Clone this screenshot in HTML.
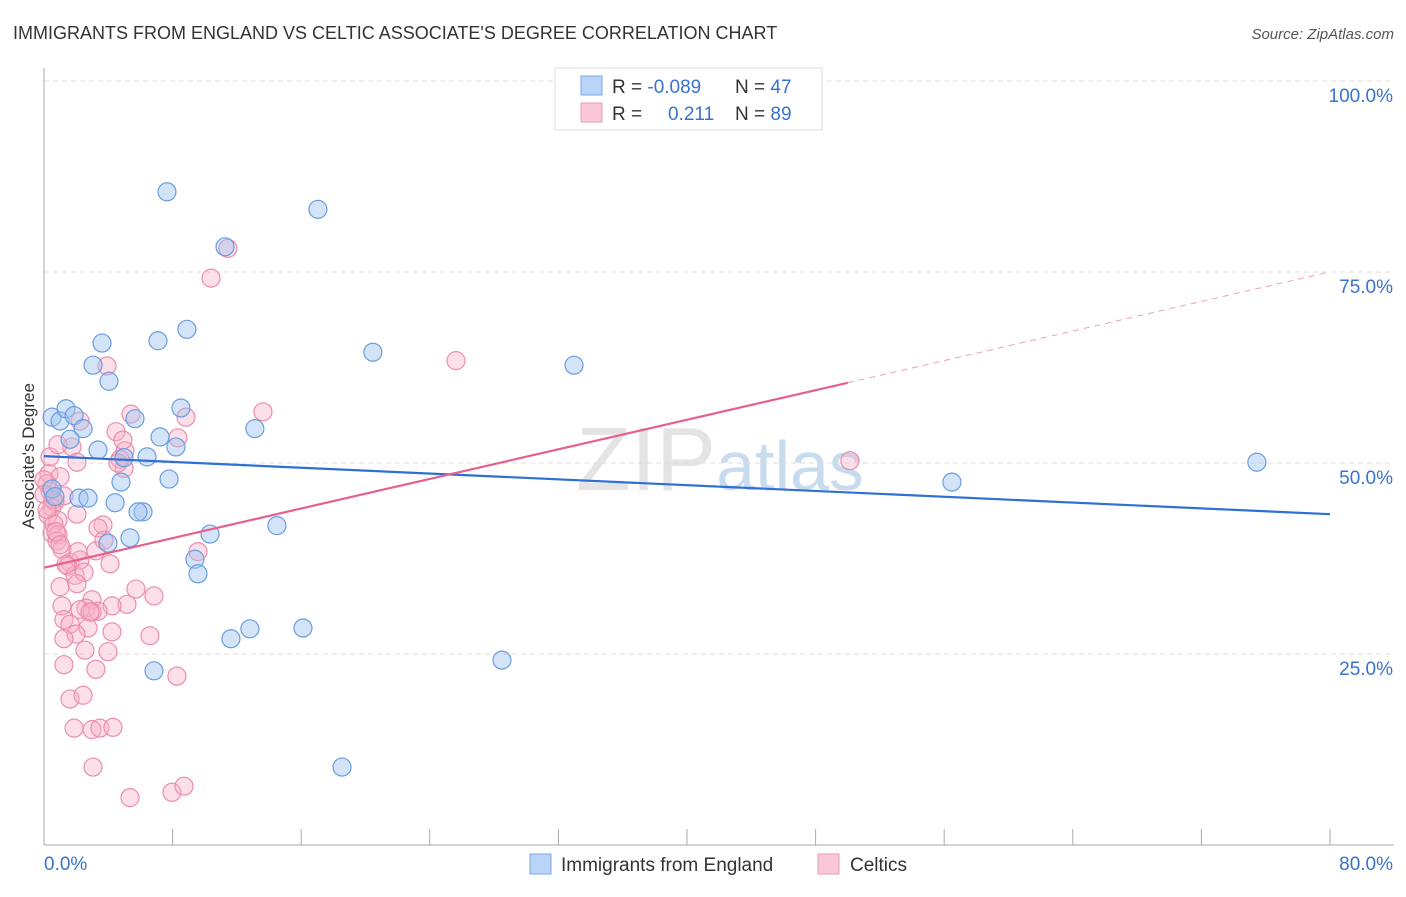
<!DOCTYPE html>
<html><head><meta charset="utf-8"><style>
body{margin:0;background:#fff;font-family:"Liberation Sans",sans-serif;}
svg text{font-family:"Liberation Sans",sans-serif;}
</style></head><body>
<svg id="chart" width="1406" height="892" xmlns="http://www.w3.org/2000/svg">
<text x="13" y="39" font-size="18" fill="#333">IMMIGRANTS FROM ENGLAND VS CELTIC ASSOCIATE'S DEGREE CORRELATION CHART</text>
<text x="1394" y="39" font-size="15" fill="#555" text-anchor="end" font-style="italic">Source: ZipAtlas.com</text>
<text x="720" y="490" font-size="90" fill="#e4e4e4" text-anchor="middle" font-family="Liberation Serif">ZIP<tspan fill="#c8dcf0" font-family="Liberation Sans" font-size="70">atlas</tspan></text>
<g id="grid"></g><g id="axes"></g><g id="pts"></g><g id="lines"></g>
<text transform="translate(34,456) rotate(-90)" font-size="17" fill="#333" text-anchor="middle">Associate's Degree</text>
<g>
<rect x="555" y="68" width="267" height="62" fill="#fff" stroke="#ddd"/>
<rect x="581" y="76" width="21" height="19" fill="#b9d4f6" stroke="#7aa8e6"/>
<rect x="581" y="103" width="21" height="19" fill="#fbc8d7" stroke="#ee9ab5"/>
<text x="612" y="93" font-size="19" fill="#333">R = <tspan fill="#3a72d0">-0.089</tspan></text>
<text x="735" y="93" font-size="19" fill="#333">N = <tspan fill="#3a72d0">47</tspan></text>
<text x="612" y="120" font-size="19" fill="#333">R = <tspan fill="#3a72d0" x="668">0.211</tspan></text>
<text x="735" y="120" font-size="19" fill="#333">N = <tspan fill="#3a72d0">89</tspan></text>
</g>
<g>
<rect x="530" y="854" width="21" height="20" fill="#b9d4f6" stroke="#7aa8e6"/>
<text x="561" y="871" font-size="19" fill="#333">Immigrants from England</text>
<rect x="818" y="854" width="21" height="20" fill="#fbc8d7" stroke="#ee9ab5"/>
<text x="850" y="871" font-size="19" fill="#333">Celtics</text>
</g>
</svg>
<script>
const yTicks=[25,50,75,100];
const yTickLabels=["25.0%","50.0%","75.0%","100.0%"];
const xTickLabels=["0.0%","80.0%"];
const blueX=[7.65,17.04,11.26,3.61,7.09,8.89,3.05,4.04,20.46,32.97,0.5,1.0,1.37,1.87,2.43,1.62,5.66,8.52,13.12,7.22,6.41,8.21,3.36,4.98,7.78,4.79,0.5,2.18,2.74,4.42,6.16,5.85,3.98,5.35,10.33,14.49,9.39,9.58,12.81,11.63,16.11,6.84,28.49,18.54,56.48,75.45,0.68];
const blueY=[85.5,83.2,78.3,65.7,66.0,67.5,62.8,60.7,64.5,62.8,56.0,55.5,57.1,56.2,54.5,53.1,55.8,57.2,54.5,53.4,50.8,52.1,51.7,50.7,47.9,47.5,46.6,45.4,45.4,44.8,43.6,43.6,39.5,40.2,40.7,41.8,37.4,35.5,28.3,27.0,28.4,22.8,24.2,10.2,47.5,50.1,45.6];
const pinkX=[11.44,10.39,25.63,3.92,13.62,5.41,8.83,2.24,4.48,8.33,5.04,1.74,4.73,0.37,2.05,4.98,0.31,1.0,0.19,0.37,1.24,0.68,0.5,0.25,2.05,0.87,0.62,3.67,0.5,3.36,0.87,0.81,3.23,9.58,1.12,1.62,2.24,1.49,1.93,2.49,5.72,1.0,6.84,2.99,5.16,4.23,1.12,2.61,3.36,2.24,2.99,1.24,1.62,2.74,4.23,6.59,1.99,1.24,2.55,3.98,1.24,3.23,8.27,1.62,2.43,1.87,2.99,3.48,4.29,3.05,5.35,7.96,8.71,50.13,2.11,1.37,2.86,4.11,0.87,4.6,0,0,0.56,0.19,0.75,2.05,4.91,3.73,1.0];
const pinkY=[78.1,74.2,63.4,62.7,56.7,56.4,56.0,55.5,54.1,53.3,51.6,52.1,50.5,50.8,50.1,49.3,48.6,48.2,47.3,46.3,45.7,44.9,44.2,43.2,43.3,42.5,42.0,41.9,40.8,41.5,40.6,39.8,38.5,38.4,38.7,37.0,37.3,36.5,35.3,35.7,33.5,33.8,32.6,32.1,31.5,31.3,31.3,31.0,30.6,30.8,30.5,29.5,28.9,28.4,27.9,27.4,27.6,27.0,25.5,25.3,23.6,23.0,22.1,19.1,19.6,15.3,15.1,15.3,15.4,10.2,6.2,6.9,7.7,50.3,38.4,36.7,30.5,36.8,52.4,50.0,47.8,45.9,45.2,43.9,41.0,34.2,53.0,39.9,39.3];
const blueTrend=[50.9,-0.095];
const pinkTrend=[36.3,0.484];
const pinkSolidEnd=50;
const X0=44,X1=1330,Y0=845,Y1=81;
const sx=v=>X0+v/80*(X1-X0);
const sy=v=>Y0-v/100*(Y0-Y1);
const NS="http://www.w3.org/2000/svg";
function mk(tag,attrs,parent){const e=document.createElementNS(NS,tag);for(const k in attrs)e.setAttribute(k,attrs[k]);parent.appendChild(e);return e;}
const grid=document.getElementById('grid'),axes=document.getElementById('axes'),pts=document.getElementById('pts'),lines=document.getElementById('lines');
yTicks.forEach((t,i)=>{
 const l=mk('line',{x1:X0,x2:1394,y1:sy(t),y2:sy(t),stroke:'#ddd','stroke-dasharray':'5,4'},grid);
 
 
 const tx=mk('text',{x:1393,y:sy(t)+21,'font-size':19,fill:'#3a72d0','text-anchor':'end'},axes);
 tx.textContent=yTickLabels[i];
 
 
});
const ax=mk('line',{x1:X0,x2:X0,y1:68,y2:Y0,stroke:'#aaa'},axes);


const bx=mk('line',{x1:X0,x2:1394,y1:Y0,y2:Y0,stroke:'#aaa'},axes);


for(let i=0;i<=10;i++){const t=mk('line',{x1:sx(i*8),x2:sx(i*8),y1:Y0,y2:Y0-16,stroke:'#aaa'},axes);
 
 }
[[0,'start',X0],[80,'end',1393]].forEach((d,i)=>{const t=mk('text',{x:d[2],y:870,'font-size':19,fill:'#3a72d0','text-anchor':d[1]},axes);t.textContent=xTickLabels[i];
 
 });
pinkX.forEach((v,i)=>{const c=mk('circle',{cx:sx(v),cy:sy(pinkY[i]),r:9,fill:'rgba(248,175,198,0.4)',stroke:'#eb8eab','stroke-width':1.2},pts);
 
 });
blueX.forEach((v,i)=>{const c=mk('circle',{cx:sx(v),cy:sy(blueY[i]),r:9,fill:'rgba(160,196,240,0.45)',stroke:'#6a9de0','stroke-width':1.2},pts);
 
 });
const bl=mk('line',{x1:sx(0),y1:sy(blueTrend[0]),x2:sx(80),y2:sy(blueTrend[0]+80*blueTrend[1]),stroke:'#2f6fd6','stroke-width':2.2},lines);


const pl=mk('line',{x1:sx(0),y1:sy(pinkTrend[0]),x2:sx(pinkSolidEnd),y2:sy(pinkTrend[0]+pinkSolidEnd*pinkTrend[1]),stroke:'#e5608f','stroke-width':2.2},lines);


const pd=mk('line',{x1:sx(pinkSolidEnd),y1:sy(pinkTrend[0]+pinkSolidEnd*pinkTrend[1]),x2:sx(80),y2:sy(pinkTrend[0]+80*pinkTrend[1]),stroke:'#eba0b8','stroke-width':1,'stroke-dasharray':'6,5'},lines);


</script>
</body></html>
